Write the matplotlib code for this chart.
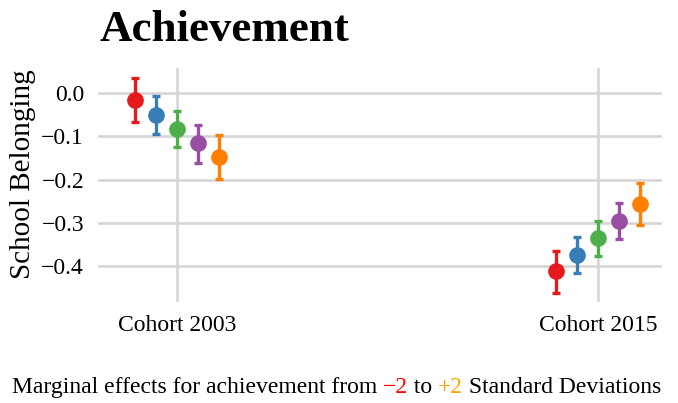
import matplotlib
matplotlib.use("Agg")
import matplotlib.pyplot as plt
import numpy as np

# ── Data ─────────────────────────────────────────────────────────
COHORTS = ["Cohort 2003", "Cohort 2015"]
LEVELS = ["-2 SD", "-1 SD", "0 SD", "+1 SD", "+2 SD"]
COLORS = ["#e41a1c", "#377eb8", "#4daf4a", "#984ea3", "#ff7f00"]

EST_2003 = [-0.016, -0.051, -0.083, -0.115, -0.148]
LO_2003 = [-0.067, -0.095, -0.125, -0.161, -0.199]
HI_2003 = [0.035, -0.007, -0.041, -0.074, -0.097]

EST_2015 = [-0.411, -0.374, -0.335, -0.296, -0.257]
LO_2015 = [-0.462, -0.416, -0.376, -0.337, -0.305]
HI_2015 = [-0.364, -0.333, -0.296, -0.254, -0.208]

YTICKS = [0.0, -0.1, -0.2, -0.3, -0.4]

SERIF = ["Liberation Serif", "DejaVu Serif"]
GRID = "#d6d6d6"

fig = plt.figure(figsize=(6.78, 4.03), dpi=100)
ax = fig.add_axes([0.1445, 0.2506, 0.8318, 0.5807])

est = np.array([EST_2003, EST_2015])
lo = np.array([LO_2003, LO_2015])
hi = np.array([HI_2003, HI_2015])
xbase = np.arange(1, len(COHORTS) + 1)
dodge = 0.05

for i, (lab, col) in enumerate(zip(LEVELS, COLORS)):
    xs = xbase + (i - 2) * dodge
    y = est[:, i]
    yerr = np.vstack([y - lo[:, i], hi[:, i] - y])
    ax.errorbar(xs, y, yerr=yerr, fmt="o", color=col, ecolor=col,
                markersize=11, elinewidth=2.4, capsize=3.2, capthick=2.4,
                zorder=3, label=lab)

ax.set_xlim(1 - 0.188, 2 + 0.152)
ax.set_ylim(-0.483, 0.058)
ax.set_xticks(xbase)
ax.set_xticklabels(COHORTS, family=SERIF, fontsize=17)
ax.set_yticks(YTICKS)
ax.set_yticklabels([f"{v:.1f}".replace("-", "\u2212") for v in YTICKS],
                   family=SERIF, fontsize=17)
ax.tick_params(axis="y", length=0, pad=10)
ax.tick_params(axis="x", length=0, pad=9)
for s in ax.spines.values():
    s.set_visible(False)
ax.grid(True, color=GRID, linewidth=1.9, zorder=0)
ax.set_axisbelow(True)
ax.set_ylabel("School Belonging", family=SERIF, fontsize=21)
ax.yaxis.set_label_coords(-0.110, 0.547)

fig.text(100 / 678, 1 - 30 / 403, "Achievement", family=SERIF, fontsize=32.5,
         fontweight="bold", ha="left", va="center")

# caption, built from coloured pieces
pieces = [("Marginal effects for achievement from ", "black"),
          ("\u22122", "red"),
          (" to ", "black"),
          ("+2", "#ffa500"),
          (" Standard Deviations", "black")]
t = fig.text(12 / 678, 1 - 393 / 403, pieces[0][0], family=SERIF,
             fontsize=17, color=pieces[0][1], ha="left", va="baseline")
for txt, col in pieces[1:]:
    t = ax.annotate(txt, xy=(1, 0), xycoords=t, va="bottom", ha="left",
                    family=SERIF, fontsize=17, color=col)

fig.savefig("out.png", dpi=100)
plt.close(fig)
